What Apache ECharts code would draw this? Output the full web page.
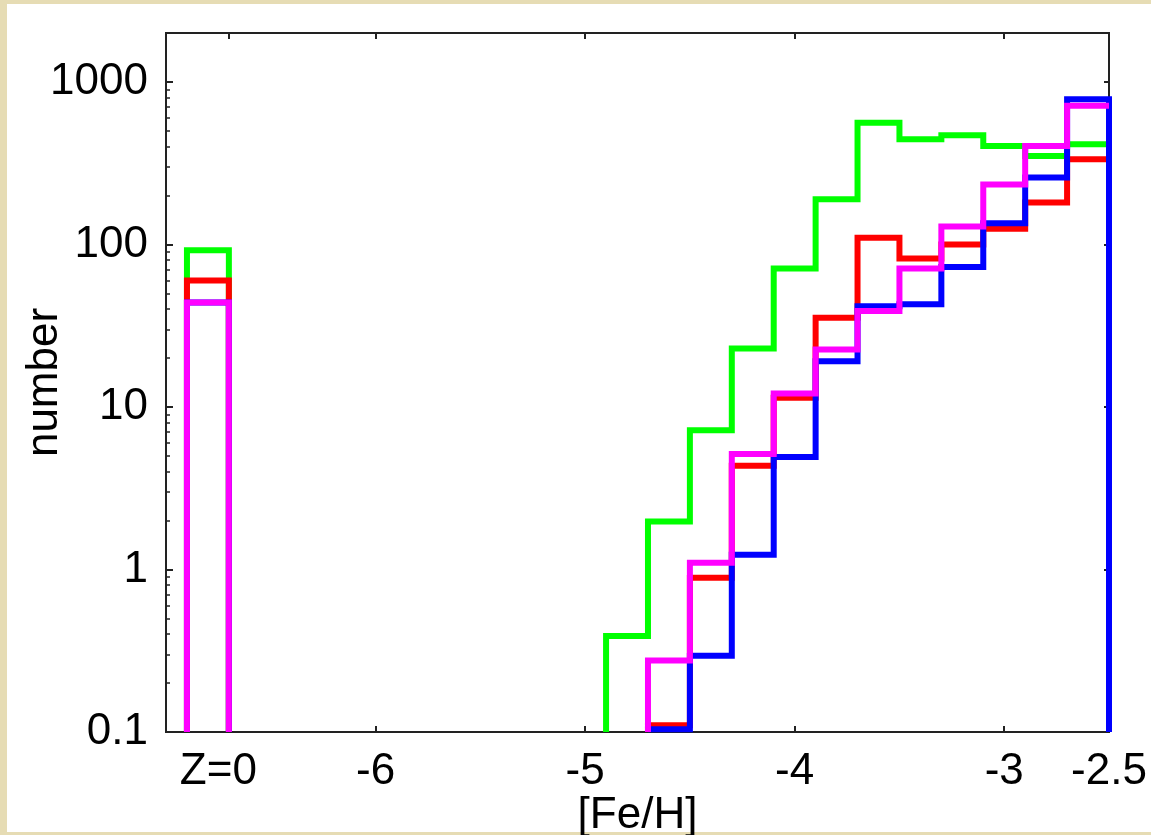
<!DOCTYPE html>
<html>
<head>
<meta charset="utf-8">
<script src="https://cdn.jsdelivr.net/npm/echarts/dist/echarts.min.js"></script>
<style>
html,body{margin:0;padding:0;background:#ffffff;}
#chart{width:1151px;height:835px;}
</style>
</head>
<body>
<div id="chart"></div>
<script>
// ---- data ----
const binEdges = [-4.9, -4.7, -4.5, -4.3, -4.1, -3.9, -3.7, -3.5, -3.3, -3.1, -2.9, -2.7, -2.5];
const zeroBinEdges = [-6.9, -6.7];
const greenCounts   = [0.39, 1.97, 7.2, 22.9, 71, 190, 560, 444, 470, 404, 350, 414];
const redCounts     = [null, 0.11, 0.89, 4.35, 11.4, 35.4, 110, 82, 100, 125, 181, 334];
const blueCounts    = [null, 0.104, 0.295, 1.23, 4.93, 19.1, 41.6, 42.8, 72.6, 135, 258, 783];
const magentaCounts = [null, 0.275, 1.1, 5.14, 12.1, 22.6, 38.9, 71, 129, 234, 404, 713];
const greenZ0 = 92, redZ0 = 60, blueZ0 = 44, magentaZ0 = 44;
const xTickValues = [-6.7, -6, -5, -4, -3];
const xLabelValues = [-6.75, -6, -5, -4, -3, -2.5];
const xLabelTexts = ['Z=0', '-6', '-5', '-4', '-3', '-2.5'];
const yMajorTicks = [0.1, 1, 10, 100, 1000];
const yMajorLabels = ['0.1', '1', '10', '100', '1000'];
const yMinorTicks = [0.2,0.3,0.4,0.5,0.6,0.7,0.8,0.9,2,3,4,5,6,7,8,9,20,30,40,50,60,70,80,90,200,300,400,500,600,700,800,900];
const xMin = -7, xMax = -2.5, yMin = 0.1, yMax = 2000;

// ---- build step outlines ----
function stepPath(vals, dropEnd) {
  const pts = [];
  let first = vals.findIndex(v => v != null);
  pts.push([binEdges[first], yMin]);
  for (let i = first; i < vals.length; i++) {
    pts.push([binEdges[i], vals[i]]);
    pts.push([binEdges[i + 1], vals[i]]);
  }
  if (dropEnd) pts.push([binEdges[vals.length], yMin]);
  return pts;
}
function boxPath(v) {
  return [[zeroBinEdges[0], yMin], [zeroBinEdges[0], v], [zeroBinEdges[1], v], [zeroBinEdges[1], yMin]];
}
const FONT = "'Liberation Sans', Arial, sans-serif";
const AX = '#222';
function lineSeries(data, color) {
  return {
    type: 'line', data: data, symbol: 'none', animation: false, clip: true,
    lineStyle: { color: color, width: 6, join: 'miter' }, itemStyle: { color: color },
    xAxisIndex: 0, yAxisIndex: 0
  };
}
const series = [
  lineSeries(boxPath(greenZ0), '#00ff00'),
  lineSeries(boxPath(redZ0), '#ff0000'),
  lineSeries(boxPath(blueZ0), '#0000ff'),
  lineSeries(boxPath(magentaZ0), '#ff00ff'),
  lineSeries(stepPath(greenCounts, true), '#00ff00'),
  lineSeries(stepPath(redCounts, true), '#ff0000'),
  lineSeries(stepPath(blueCounts, true), '#0000ff'),
  lineSeries(stepPath(magentaCounts, false), '#ff00ff')
];

const chart = echarts.init(document.getElementById('chart'), null, { renderer: 'canvas' });
chart.setOption({
  backgroundColor: '#ffffff',
  animation: false,
  graphic: [
    { type: 'rect', shape: { x: 0, y: 0, width: 1151, height: 4 }, style: { fill: '#e6dcb4' }, silent: true },
    { type: 'rect', shape: { x: 0, y: 0, width: 7, height: 835 }, style: { fill: '#e6dcb4' }, silent: true },
    { type: 'rect', shape: { x: 0, y: 832, width: 1151, height: 3 }, style: { fill: '#e6dcb4' }, silent: true }
  ],
  grid: {
    left: 166, right: 42, top: 33, bottom: 103, containLabel: false, outerBoundsMode: 'none',
    show: true, borderColor: AX, borderWidth: 2, backgroundColor: '#ffffff'
  },
  xAxis: [
    {
      type: 'value', min: xMin, max: xMax, position: 'bottom',
      name: '[Fe/H]', nameLocation: 'middle', nameGap: 62, nameMoveOverlap: false,
      nameTextStyle: { fontFamily: FONT, fontSize: 44, color: '#000' },
      axisLine: { show: true, onZero: false, lineStyle: { color: AX, width: 2 } },
      axisTick: { show: true, inside: true, length: 6, customValues: xTickValues, lineStyle: { color: AX, width: 2 } },
      axisLabel: {
        show: true, customValues: xLabelValues, margin: 18,
        fontFamily: FONT, fontSize: 44, color: '#000',
        formatter: function (v) {
          for (let i = 0; i < xLabelValues.length; i++) if (Math.abs(xLabelValues[i] - v) < 1e-6) return xLabelTexts[i];
          return '';
        }
      },
      splitLine: { show: false }
    },
    {
      type: 'value', min: xMin, max: xMax, position: 'top',
      axisLine: { show: false },
      axisTick: { show: true, inside: true, length: 6, customValues: xTickValues, lineStyle: { color: AX, width: 2 } },
      axisLabel: { show: false },
      splitLine: { show: false }
    }
  ],
  yAxis: [
    {
      type: 'log', logBase: 10, min: yMin, max: yMax, position: 'left',
      name: 'number', nameLocation: 'middle', nameGap: 99, nameRotate: 90, nameMoveOverlap: false,
      nameTextStyle: { fontFamily: FONT, fontSize: 44, color: '#000' },
      axisLine: { show: true, lineStyle: { color: AX, width: 2 } },
      axisTick: { show: true, inside: true, length: 7, customValues: yMajorTicks, lineStyle: { color: AX, width: 2 } },
      axisLabel: {
        show: true, customValues: yMajorTicks, margin: 18,
        fontFamily: FONT, fontSize: 44, color: '#000',
        formatter: function (v) {
          for (let i = 0; i < yMajorTicks.length; i++) if (Math.abs(Math.log10(yMajorTicks[i]) - Math.log10(v)) < 1e-6) return yMajorLabels[i];
          return '';
        }
      },
      splitLine: { show: false }
    },
    {
      type: 'log', logBase: 10, min: yMin, max: yMax, position: 'left',
      axisLine: { show: false },
      axisTick: { show: true, inside: true, length: 4, customValues: yMinorTicks, lineStyle: { color: AX, width: 1.5 } },
      axisLabel: { show: false },
      splitLine: { show: false }
    },
    {
      type: 'log', logBase: 10, min: yMin, max: yMax, position: 'right',
      axisLine: { show: false },
      axisTick: { show: true, inside: true, length: 5, customValues: yMajorTicks, lineStyle: { color: AX, width: 2 } },
      axisLabel: { show: false },
      splitLine: { show: false }
    }
  ],
  series: series
});
</script>
</body>
</html>
